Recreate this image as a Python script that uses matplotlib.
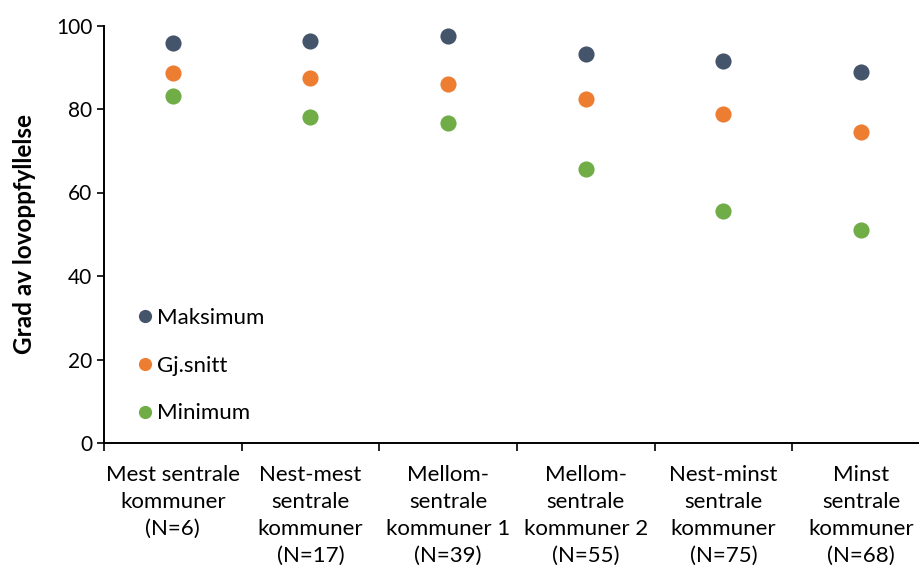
import numpy as np
import matplotlib
matplotlib.use("Agg")
import matplotlib.pyplot as plt
from matplotlib.lines import Line2D

plt.rcParams['font.family'] = ['Lato', 'DejaVu Sans']

categories = ["Mest sentrale\nkommuner\n(N=6)",
              "Nest-mest\nsentrale\nkommuner\n(N=17)",
              "Mellom-\nsentrale\nkommuner 1\n(N=39)",
              "Mellom-\nsentrale\nkommuner 2\n(N=55)",
              "Nest-minst\nsentrale\nkommuner\n(N=75)",
              "Minst\nsentrale\nkommuner\n(N=68)"]
maksimum = [95.9, 96.3, 97.4, 93.1, 91.6, 88.9]
gjsnitt = [88.6, 87.5, 86.1, 82.4, 78.8, 74.5]
minimum = [83.1, 78.0, 76.6, 65.6, 55.6, 50.9]
series_names = ["Maksimum", "Gj.snitt", "Minimum"]
colors = ["#44546A", "#ED7D31", "#70AD47"]

fig = plt.figure(figsize=(9.2, 5.72), dpi=100)
ax = fig.add_axes([104 / 920, 129 / 572, 826 / 920, 417.5 / 572])

x = np.arange(len(categories))
for vals, c in zip([maksimum, gjsnitt, minimum], colors):
    ax.scatter(x, vals, s=135, color=c, zorder=3, linewidths=0)

ax.set_xlim(-0.5, 5.5)
ax.set_ylim(0, 100)
ax.set_yticks(np.arange(0, 101, 20))
ax.tick_params(axis='y', labelsize=15, direction='out', length=5, width=1.2)

# category boundaries as ticks, labels centred between them
ax.set_xticks(np.arange(-0.5, 6, 1))
ax.set_xticklabels([])
ax.tick_params(axis='x', which='major', direction='out', length=6, width=1.2)
ax.set_xticks(x, minor=True)
ax.set_xticklabels(categories, minor=True, fontsize=16, linespacing=1.42, va='top')
ax.tick_params(axis='x', which='minor', length=0, pad=16)

for s in ['top', 'right']:
    ax.spines[s].set_visible(False)
for s in ['left', 'bottom']:
    ax.spines[s].set_linewidth(1.4)

ax.set_ylabel("Grad av lovoppfyllelse", fontsize=17.5, fontweight='bold', labelpad=14)

handles = [Line2D([], [], marker='o', linestyle='', markersize=9.5, color=c, markeredgewidth=0)
           for c in colors]
ax.legend(handles, series_names, loc='upper left', bbox_to_anchor=(0.025, 0.345),
          frameon=False, fontsize=16, labelspacing=1.25, handletextpad=0.05,
          handlelength=1.0, borderaxespad=0)

fig.savefig("out.png", dpi=100)
